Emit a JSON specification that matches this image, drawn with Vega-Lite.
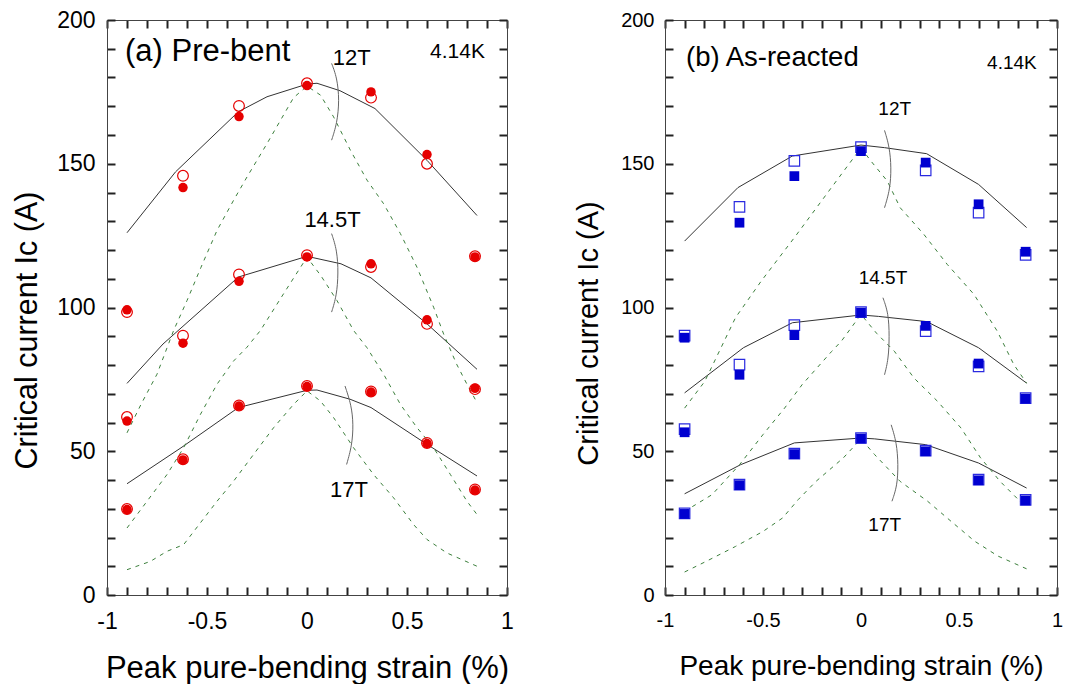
{
  "$schema": "https://vega.github.io/schema/vega-lite/v6.json",
  "background": "white",
  "padding": {"left": 12, "top": 8, "right": 5, "bottom": 0},
  "spacing": 60,
  "config": {
    "font": "Liberation Sans",
    "view": {"stroke": "#444", "strokeWidth": 1},
    "axis": {"grid": false, "domainColor": "#444", "tickColor": "#222", "tickWidth": 2, "ticks": true, "tickSize": -8, "tickOpacity": 1, "zindex": 1, "labelColor": "#000", "titleColor": "#000", "titleFontWeight": "normal", "labelFont": "Liberation Sans", "titleFont": "Liberation Sans"}
  },
  "datasets": {
    "pts": [
      {"panel": "a", "field": "12T", "kind": "open", "x": -0.9, "y": 98.4},
      {"panel": "a", "field": "12T", "kind": "open", "x": -0.62, "y": 145.8},
      {"panel": "a", "field": "12T", "kind": "open", "x": -0.34, "y": 170.1},
      {"panel": "a", "field": "12T", "kind": "open", "x": 0, "y": 178},
      {"panel": "a", "field": "12T", "kind": "open", "x": 0.32, "y": 173},
      {"panel": "a", "field": "12T", "kind": "open", "x": 0.6, "y": 150},
      {"panel": "a", "field": "12T", "kind": "open", "x": 0.84, "y": 117.8},
      {"panel": "a", "field": "12T", "kind": "filled", "x": -0.9, "y": 99.2},
      {"panel": "a", "field": "12T", "kind": "filled", "x": -0.62, "y": 141.7},
      {"panel": "a", "field": "12T", "kind": "filled", "x": -0.34, "y": 166.4},
      {"panel": "a", "field": "12T", "kind": "filled", "x": 0, "y": 177.2},
      {"panel": "a", "field": "12T", "kind": "filled", "x": 0.32, "y": 175},
      {"panel": "a", "field": "12T", "kind": "filled", "x": 0.6, "y": 153.2},
      {"panel": "a", "field": "12T", "kind": "filled", "x": 0.84, "y": 117.6},
      {"panel": "a", "field": "14.5T", "kind": "open", "x": -0.9, "y": 61.9},
      {"panel": "a", "field": "14.5T", "kind": "open", "x": -0.62, "y": 90.2},
      {"panel": "a", "field": "14.5T", "kind": "open", "x": -0.34, "y": 111.5},
      {"panel": "a", "field": "14.5T", "kind": "open", "x": 0, "y": 118.2},
      {"panel": "a", "field": "14.5T", "kind": "open", "x": 0.32, "y": 114.1},
      {"panel": "a", "field": "14.5T", "kind": "open", "x": 0.6, "y": 94.3},
      {"panel": "a", "field": "14.5T", "kind": "open", "x": 0.84, "y": 71.6},
      {"panel": "a", "field": "14.5T", "kind": "filled", "x": -0.9, "y": 60.5},
      {"panel": "a", "field": "14.5T", "kind": "filled", "x": -0.62, "y": 87.6},
      {"panel": "a", "field": "14.5T", "kind": "filled", "x": -0.34, "y": 109.1},
      {"panel": "a", "field": "14.5T", "kind": "filled", "x": 0, "y": 117.6},
      {"panel": "a", "field": "14.5T", "kind": "filled", "x": 0.32, "y": 115.2},
      {"panel": "a", "field": "14.5T", "kind": "filled", "x": 0.6, "y": 95.7},
      {"panel": "a", "field": "14.5T", "kind": "filled", "x": 0.84, "y": 71.9},
      {"panel": "a", "field": "17T", "kind": "open", "x": -0.9, "y": 29.9},
      {"panel": "a", "field": "17T", "kind": "open", "x": -0.62, "y": 47.2},
      {"panel": "a", "field": "17T", "kind": "open", "x": -0.34, "y": 65.9},
      {"panel": "a", "field": "17T", "kind": "open", "x": 0, "y": 72.7},
      {"panel": "a", "field": "17T", "kind": "open", "x": 0.32, "y": 70.8},
      {"panel": "a", "field": "17T", "kind": "open", "x": 0.6, "y": 52.9},
      {"panel": "a", "field": "17T", "kind": "open", "x": 0.84, "y": 36.7},
      {"panel": "a", "field": "17T", "kind": "filled", "x": -0.9, "y": 29.7},
      {"panel": "a", "field": "17T", "kind": "filled", "x": -0.62, "y": 47.0},
      {"panel": "a", "field": "17T", "kind": "filled", "x": -0.34, "y": 65.7},
      {"panel": "a", "field": "17T", "kind": "filled", "x": 0, "y": 72.5},
      {"panel": "a", "field": "17T", "kind": "filled", "x": 0.32, "y": 70.6},
      {"panel": "a", "field": "17T", "kind": "filled", "x": 0.6, "y": 52.7},
      {"panel": "a", "field": "17T", "kind": "filled", "x": 0.84, "y": 36.5},
      {"panel": "b", "field": "12T", "kind": "open", "x": -0.9, "y": 90.2},
      {"panel": "b", "field": "12T", "kind": "open", "x": -0.62, "y": 135},
      {"panel": "b", "field": "12T", "kind": "open", "x": -0.34, "y": 151},
      {"panel": "b", "field": "12T", "kind": "open", "x": 0, "y": 155.8},
      {"panel": "b", "field": "12T", "kind": "open", "x": 0.33, "y": 147.7},
      {"panel": "b", "field": "12T", "kind": "open", "x": 0.6, "y": 133},
      {"panel": "b", "field": "12T", "kind": "open", "x": 0.84, "y": 118.3},
      {"panel": "b", "field": "12T", "kind": "filled", "x": -0.9, "y": 89.5},
      {"panel": "b", "field": "12T", "kind": "filled", "x": -0.62, "y": 129.5},
      {"panel": "b", "field": "12T", "kind": "filled", "x": -0.34, "y": 145.7},
      {"panel": "b", "field": "12T", "kind": "filled", "x": 0, "y": 154.4},
      {"panel": "b", "field": "12T", "kind": "filled", "x": 0.33, "y": 150.4},
      {"panel": "b", "field": "12T", "kind": "filled", "x": 0.6, "y": 135.9},
      {"panel": "b", "field": "12T", "kind": "filled", "x": 0.84, "y": 119.4},
      {"panel": "b", "field": "14.5T", "kind": "open", "x": -0.9, "y": 57.7},
      {"panel": "b", "field": "14.5T", "kind": "open", "x": -0.62, "y": 80.1},
      {"panel": "b", "field": "14.5T", "kind": "open", "x": -0.34, "y": 93.9},
      {"panel": "b", "field": "14.5T", "kind": "open", "x": 0, "y": 98.4},
      {"panel": "b", "field": "14.5T", "kind": "open", "x": 0.33, "y": 91.8},
      {"panel": "b", "field": "14.5T", "kind": "open", "x": 0.6, "y": 79.5},
      {"panel": "b", "field": "14.5T", "kind": "open", "x": 0.84, "y": 68.5},
      {"panel": "b", "field": "14.5T", "kind": "filled", "x": -0.9, "y": 56.6},
      {"panel": "b", "field": "14.5T", "kind": "filled", "x": -0.62, "y": 76.6},
      {"panel": "b", "field": "14.5T", "kind": "filled", "x": -0.34, "y": 90.4},
      {"panel": "b", "field": "14.5T", "kind": "filled", "x": 0, "y": 98.2},
      {"panel": "b", "field": "14.5T", "kind": "filled", "x": 0.33, "y": 93.6},
      {"panel": "b", "field": "14.5T", "kind": "filled", "x": 0.6, "y": 80.5},
      {"panel": "b", "field": "14.5T", "kind": "filled", "x": 0.84, "y": 68.3},
      {"panel": "b", "field": "17T", "kind": "open", "x": -0.9, "y": 28.4},
      {"panel": "b", "field": "17T", "kind": "open", "x": -0.62, "y": 38.4},
      {"panel": "b", "field": "17T", "kind": "open", "x": -0.34, "y": 49.2},
      {"panel": "b", "field": "17T", "kind": "open", "x": 0, "y": 54.6},
      {"panel": "b", "field": "17T", "kind": "open", "x": 0.33, "y": 50.2},
      {"panel": "b", "field": "17T", "kind": "open", "x": 0.6, "y": 40.1},
      {"panel": "b", "field": "17T", "kind": "open", "x": 0.84, "y": 33.1},
      {"panel": "b", "field": "17T", "kind": "filled", "x": -0.9, "y": 28.2},
      {"panel": "b", "field": "17T", "kind": "filled", "x": -0.62, "y": 38.2},
      {"panel": "b", "field": "17T", "kind": "filled", "x": -0.34, "y": 49.0},
      {"panel": "b", "field": "17T", "kind": "filled", "x": 0, "y": 54.4},
      {"panel": "b", "field": "17T", "kind": "filled", "x": 0.33, "y": 50.0},
      {"panel": "b", "field": "17T", "kind": "filled", "x": 0.6, "y": 39.9},
      {"panel": "b", "field": "17T", "kind": "filled", "x": 0.84, "y": 32.9}
    ],
    "curves": [
      {"panel": "a", "field": "12T", "kind": "fit", "x": -0.9, "y": 126},
      {"panel": "a", "field": "12T", "kind": "fit", "x": -0.657, "y": 147.2},
      {"panel": "a", "field": "12T", "kind": "fit", "x": -0.343, "y": 168.1},
      {"panel": "a", "field": "12T", "kind": "fit", "x": -0.2, "y": 173.3},
      {"panel": "a", "field": "12T", "kind": "fit", "x": 0, "y": 177.7},
      {"panel": "a", "field": "12T", "kind": "fit", "x": 0.05, "y": 178},
      {"panel": "a", "field": "12T", "kind": "fit", "x": 0.165, "y": 175.4},
      {"panel": "a", "field": "12T", "kind": "fit", "x": 0.34, "y": 169.2},
      {"panel": "a", "field": "12T", "kind": "fit", "x": 0.6, "y": 151.2},
      {"panel": "a", "field": "12T", "kind": "fit", "x": 0.85, "y": 132},
      {"panel": "a", "field": "14.5T", "kind": "fit", "x": -0.9, "y": 73.6},
      {"panel": "a", "field": "14.5T", "kind": "fit", "x": -0.72, "y": 87.3},
      {"panel": "a", "field": "14.5T", "kind": "fit", "x": -0.343, "y": 110.6},
      {"panel": "a", "field": "14.5T", "kind": "fit", "x": 0, "y": 117.8},
      {"panel": "a", "field": "14.5T", "kind": "fit", "x": 0.17, "y": 115.2},
      {"panel": "a", "field": "14.5T", "kind": "fit", "x": 0.32, "y": 110.3},
      {"panel": "a", "field": "14.5T", "kind": "fit", "x": 0.6, "y": 94.3},
      {"panel": "a", "field": "14.5T", "kind": "fit", "x": 0.85, "y": 78.5},
      {"panel": "a", "field": "17T", "kind": "fit", "x": -0.9, "y": 38.7},
      {"panel": "a", "field": "17T", "kind": "fit", "x": -0.63, "y": 51.2},
      {"panel": "a", "field": "17T", "kind": "fit", "x": -0.343, "y": 65.2},
      {"panel": "a", "field": "17T", "kind": "fit", "x": 0, "y": 71.2},
      {"panel": "a", "field": "17T", "kind": "fit", "x": 0.05, "y": 71.3},
      {"panel": "a", "field": "17T", "kind": "fit", "x": 0.215, "y": 68.1},
      {"panel": "a", "field": "17T", "kind": "fit", "x": 0.32, "y": 65.2},
      {"panel": "a", "field": "17T", "kind": "fit", "x": 0.6, "y": 52.4},
      {"panel": "a", "field": "17T", "kind": "fit", "x": 0.85, "y": 41.4},
      {"panel": "a", "field": "12T", "kind": "dash", "x": -0.9, "y": 56.4},
      {"panel": "a", "field": "12T", "kind": "dash", "x": -0.83, "y": 66.3},
      {"panel": "a", "field": "12T", "kind": "dash", "x": -0.75, "y": 76.8},
      {"panel": "a", "field": "12T", "kind": "dash", "x": -0.667, "y": 92},
      {"panel": "a", "field": "12T", "kind": "dash", "x": -0.6, "y": 102.4},
      {"panel": "a", "field": "12T", "kind": "dash", "x": -0.53, "y": 114},
      {"panel": "a", "field": "12T", "kind": "dash", "x": -0.45, "y": 126.8},
      {"panel": "a", "field": "12T", "kind": "dash", "x": -0.367, "y": 137.3},
      {"panel": "a", "field": "12T", "kind": "dash", "x": -0.3, "y": 145.4},
      {"panel": "a", "field": "12T", "kind": "dash", "x": -0.2, "y": 157},
      {"panel": "a", "field": "12T", "kind": "dash", "x": -0.067, "y": 173},
      {"panel": "a", "field": "12T", "kind": "dash", "x": 0, "y": 177},
      {"panel": "a", "field": "12T", "kind": "dash", "x": 0.067, "y": 173.9},
      {"panel": "a", "field": "12T", "kind": "dash", "x": 0.133, "y": 166.3},
      {"panel": "a", "field": "12T", "kind": "dash", "x": 0.217, "y": 154.7},
      {"panel": "a", "field": "12T", "kind": "dash", "x": 0.3, "y": 144.3},
      {"panel": "a", "field": "12T", "kind": "dash", "x": 0.383, "y": 136.1},
      {"panel": "a", "field": "12T", "kind": "dash", "x": 0.467, "y": 125.7},
      {"panel": "a", "field": "12T", "kind": "dash", "x": 0.55, "y": 114},
      {"panel": "a", "field": "12T", "kind": "dash", "x": 0.633, "y": 100.1},
      {"panel": "a", "field": "12T", "kind": "dash", "x": 0.683, "y": 90.8},
      {"panel": "a", "field": "12T", "kind": "dash", "x": 0.748, "y": 80.3},
      {"panel": "a", "field": "12T", "kind": "dash", "x": 0.8, "y": 73.3},
      {"panel": "a", "field": "12T", "kind": "dash", "x": 0.85, "y": 66.9},
      {"panel": "a", "field": "14.5T", "kind": "dash", "x": -0.9, "y": 23.3},
      {"panel": "a", "field": "14.5T", "kind": "dash", "x": -0.8, "y": 32.6},
      {"panel": "a", "field": "14.5T", "kind": "dash", "x": -0.7, "y": 41.9},
      {"panel": "a", "field": "14.5T", "kind": "dash", "x": -0.617, "y": 51.2},
      {"panel": "a", "field": "14.5T", "kind": "dash", "x": -0.533, "y": 62.8},
      {"panel": "a", "field": "14.5T", "kind": "dash", "x": -0.45, "y": 73.3},
      {"panel": "a", "field": "14.5T", "kind": "dash", "x": -0.367, "y": 81.4},
      {"panel": "a", "field": "14.5T", "kind": "dash", "x": -0.3, "y": 86.2},
      {"panel": "a", "field": "14.5T", "kind": "dash", "x": -0.233, "y": 92},
      {"panel": "a", "field": "14.5T", "kind": "dash", "x": -0.117, "y": 104.8},
      {"panel": "a", "field": "14.5T", "kind": "dash", "x": 0, "y": 117.5},
      {"panel": "a", "field": "14.5T", "kind": "dash", "x": 0.07, "y": 111},
      {"panel": "a", "field": "14.5T", "kind": "dash", "x": 0.15, "y": 102.4},
      {"panel": "a", "field": "14.5T", "kind": "dash", "x": 0.233, "y": 92},
      {"panel": "a", "field": "14.5T", "kind": "dash", "x": 0.3, "y": 86},
      {"panel": "a", "field": "14.5T", "kind": "dash", "x": 0.383, "y": 76.8},
      {"panel": "a", "field": "14.5T", "kind": "dash", "x": 0.467, "y": 66.3},
      {"panel": "a", "field": "14.5T", "kind": "dash", "x": 0.55, "y": 58.2},
      {"panel": "a", "field": "14.5T", "kind": "dash", "x": 0.633, "y": 51.2},
      {"panel": "a", "field": "14.5T", "kind": "dash", "x": 0.717, "y": 41.9},
      {"panel": "a", "field": "14.5T", "kind": "dash", "x": 0.8, "y": 32.6},
      {"panel": "a", "field": "14.5T", "kind": "dash", "x": 0.85, "y": 28},
      {"panel": "a", "field": "17T", "kind": "dash", "x": -0.9, "y": 8.8},
      {"panel": "a", "field": "17T", "kind": "dash", "x": -0.783, "y": 11.7},
      {"panel": "a", "field": "17T", "kind": "dash", "x": -0.7, "y": 15.2},
      {"panel": "a", "field": "17T", "kind": "dash", "x": -0.617, "y": 17.5},
      {"panel": "a", "field": "17T", "kind": "dash", "x": -0.533, "y": 25.1},
      {"panel": "a", "field": "17T", "kind": "dash", "x": -0.45, "y": 32.6},
      {"panel": "a", "field": "17T", "kind": "dash", "x": -0.367, "y": 39.6},
      {"panel": "a", "field": "17T", "kind": "dash", "x": -0.267, "y": 48.9},
      {"panel": "a", "field": "17T", "kind": "dash", "x": -0.167, "y": 58.2},
      {"panel": "a", "field": "17T", "kind": "dash", "x": -0.067, "y": 66.3},
      {"panel": "a", "field": "17T", "kind": "dash", "x": 0, "y": 71},
      {"panel": "a", "field": "17T", "kind": "dash", "x": 0.067, "y": 67.5},
      {"panel": "a", "field": "17T", "kind": "dash", "x": 0.133, "y": 61.7},
      {"panel": "a", "field": "17T", "kind": "dash", "x": 0.233, "y": 51.2},
      {"panel": "a", "field": "17T", "kind": "dash", "x": 0.333, "y": 41.9},
      {"panel": "a", "field": "17T", "kind": "dash", "x": 0.433, "y": 33.8},
      {"panel": "a", "field": "17T", "kind": "dash", "x": 0.533, "y": 24.5},
      {"panel": "a", "field": "17T", "kind": "dash", "x": 0.6, "y": 19.3},
      {"panel": "a", "field": "17T", "kind": "dash", "x": 0.7, "y": 14.6},
      {"panel": "a", "field": "17T", "kind": "dash", "x": 0.85, "y": 10},
      {"panel": "b", "field": "12T", "kind": "fit", "x": -0.9, "y": 123.1},
      {"panel": "b", "field": "12T", "kind": "fit", "x": -0.628, "y": 141.7},
      {"panel": "b", "field": "12T", "kind": "fit", "x": -0.35, "y": 152.7},
      {"panel": "b", "field": "12T", "kind": "fit", "x": 0, "y": 156.5},
      {"panel": "b", "field": "12T", "kind": "fit", "x": 0.12, "y": 155.6},
      {"panel": "b", "field": "12T", "kind": "fit", "x": 0.335, "y": 153.5},
      {"panel": "b", "field": "12T", "kind": "fit", "x": 0.6, "y": 142.8},
      {"panel": "b", "field": "12T", "kind": "fit", "x": 0.845, "y": 127.8},
      {"panel": "b", "field": "14.5T", "kind": "fit", "x": -0.9, "y": 70.3},
      {"panel": "b", "field": "14.5T", "kind": "fit", "x": -0.6, "y": 86},
      {"panel": "b", "field": "14.5T", "kind": "fit", "x": -0.35, "y": 94.7},
      {"panel": "b", "field": "14.5T", "kind": "fit", "x": 0, "y": 97.4},
      {"panel": "b", "field": "14.5T", "kind": "fit", "x": 0.09, "y": 96.9},
      {"panel": "b", "field": "14.5T", "kind": "fit", "x": 0.335, "y": 95.1},
      {"panel": "b", "field": "14.5T", "kind": "fit", "x": 0.6, "y": 86},
      {"panel": "b", "field": "14.5T", "kind": "fit", "x": 0.845, "y": 73.7},
      {"panel": "b", "field": "17T", "kind": "fit", "x": -0.9, "y": 35.2},
      {"panel": "b", "field": "17T", "kind": "fit", "x": -0.615, "y": 45.3},
      {"panel": "b", "field": "17T", "kind": "fit", "x": -0.34, "y": 52.9},
      {"panel": "b", "field": "17T", "kind": "fit", "x": 0, "y": 54.6},
      {"panel": "b", "field": "17T", "kind": "fit", "x": 0.07, "y": 54.3},
      {"panel": "b", "field": "17T", "kind": "fit", "x": 0.33, "y": 52.3},
      {"panel": "b", "field": "17T", "kind": "fit", "x": 0.6, "y": 45.9},
      {"panel": "b", "field": "17T", "kind": "fit", "x": 0.845, "y": 37.2},
      {"panel": "b", "field": "12T", "kind": "dash", "x": -0.9, "y": 65},
      {"panel": "b", "field": "12T", "kind": "dash", "x": -0.797, "y": 74.3},
      {"panel": "b", "field": "12T", "kind": "dash", "x": -0.64, "y": 96.5},
      {"panel": "b", "field": "12T", "kind": "dash", "x": -0.509, "y": 109.2},
      {"panel": "b", "field": "12T", "kind": "dash", "x": -0.34, "y": 124.3},
      {"panel": "b", "field": "12T", "kind": "dash", "x": -0.151, "y": 141.7},
      {"panel": "b", "field": "12T", "kind": "dash", "x": 0, "y": 155.5},
      {"panel": "b", "field": "12T", "kind": "dash", "x": 0.05, "y": 151},
      {"panel": "b", "field": "12T", "kind": "dash", "x": 0.134, "y": 144},
      {"panel": "b", "field": "12T", "kind": "dash", "x": 0.2, "y": 134.7},
      {"panel": "b", "field": "12T", "kind": "dash", "x": 0.32, "y": 125.5},
      {"panel": "b", "field": "12T", "kind": "dash", "x": 0.44, "y": 115},
      {"panel": "b", "field": "12T", "kind": "dash", "x": 0.576, "y": 104.6},
      {"panel": "b", "field": "12T", "kind": "dash", "x": 0.695, "y": 91.8},
      {"panel": "b", "field": "12T", "kind": "dash", "x": 0.78, "y": 80.1},
      {"panel": "b", "field": "12T", "kind": "dash", "x": 0.845, "y": 73.7},
      {"panel": "b", "field": "14.5T", "kind": "dash", "x": -0.9, "y": 29.1},
      {"panel": "b", "field": "14.5T", "kind": "dash", "x": -0.76, "y": 34.9},
      {"panel": "b", "field": "14.5T", "kind": "dash", "x": -0.62, "y": 45.3},
      {"panel": "b", "field": "14.5T", "kind": "dash", "x": -0.5, "y": 55.8},
      {"panel": "b", "field": "14.5T", "kind": "dash", "x": -0.39, "y": 65},
      {"panel": "b", "field": "14.5T", "kind": "dash", "x": -0.3, "y": 73.2},
      {"panel": "b", "field": "14.5T", "kind": "dash", "x": -0.15, "y": 84.7},
      {"panel": "b", "field": "14.5T", "kind": "dash", "x": -0.1, "y": 88.3},
      {"panel": "b", "field": "14.5T", "kind": "dash", "x": 0, "y": 97.6},
      {"panel": "b", "field": "14.5T", "kind": "dash", "x": 0.08, "y": 91},
      {"panel": "b", "field": "14.5T", "kind": "dash", "x": 0.17, "y": 84.8},
      {"panel": "b", "field": "14.5T", "kind": "dash", "x": 0.27, "y": 75.5},
      {"panel": "b", "field": "14.5T", "kind": "dash", "x": 0.39, "y": 67.4},
      {"panel": "b", "field": "14.5T", "kind": "dash", "x": 0.51, "y": 58.1},
      {"panel": "b", "field": "14.5T", "kind": "dash", "x": 0.61, "y": 47.7},
      {"panel": "b", "field": "14.5T", "kind": "dash", "x": 0.71, "y": 39.5},
      {"panel": "b", "field": "14.5T", "kind": "dash", "x": 0.845, "y": 30.3},
      {"panel": "b", "field": "17T", "kind": "dash", "x": -0.9, "y": 8},
      {"panel": "b", "field": "17T", "kind": "dash", "x": -0.79, "y": 11.7},
      {"panel": "b", "field": "17T", "kind": "dash", "x": -0.64, "y": 16.9},
      {"panel": "b", "field": "17T", "kind": "dash", "x": -0.5, "y": 22.1},
      {"panel": "b", "field": "17T", "kind": "dash", "x": -0.4, "y": 26.8},
      {"panel": "b", "field": "17T", "kind": "dash", "x": -0.32, "y": 33.2},
      {"panel": "b", "field": "17T", "kind": "dash", "x": -0.23, "y": 39.5},
      {"panel": "b", "field": "17T", "kind": "dash", "x": -0.09, "y": 47.7},
      {"panel": "b", "field": "17T", "kind": "dash", "x": 0, "y": 54.3},
      {"panel": "b", "field": "17T", "kind": "dash", "x": 0.07, "y": 48.8},
      {"panel": "b", "field": "17T", "kind": "dash", "x": 0.2, "y": 39.5},
      {"panel": "b", "field": "17T", "kind": "dash", "x": 0.34, "y": 32.6},
      {"panel": "b", "field": "17T", "kind": "dash", "x": 0.46, "y": 25.6},
      {"panel": "b", "field": "17T", "kind": "dash", "x": 0.58, "y": 18.7},
      {"panel": "b", "field": "17T", "kind": "dash", "x": 0.7, "y": 13.5},
      {"panel": "b", "field": "17T", "kind": "dash", "x": 0.845, "y": 9.1}
    ],
    "brackets": [
      {"panel": "a", "field": "12T", "i": 0, "x": 0.123, "y": 184.9},
      {"panel": "a", "field": "12T", "i": 1, "x": 0.15, "y": 180},
      {"panel": "a", "field": "12T", "i": 2, "x": 0.162, "y": 172.1},
      {"panel": "a", "field": "12T", "i": 3, "x": 0.15, "y": 164},
      {"panel": "a", "field": "12T", "i": 4, "x": 0.123, "y": 158.2},
      {"panel": "a", "field": "14.5T", "i": 0, "x": 0.123, "y": 125.7},
      {"panel": "a", "field": "14.5T", "i": 1, "x": 0.15, "y": 120},
      {"panel": "a", "field": "14.5T", "i": 2, "x": 0.157, "y": 112},
      {"panel": "a", "field": "14.5T", "i": 3, "x": 0.148, "y": 104},
      {"panel": "a", "field": "14.5T", "i": 4, "x": 0.123, "y": 98.4},
      {"panel": "a", "field": "17T", "i": 0, "x": 0.19, "y": 72.7},
      {"panel": "a", "field": "17T", "i": 1, "x": 0.222, "y": 66},
      {"panel": "a", "field": "17T", "i": 2, "x": 0.232, "y": 59.3},
      {"panel": "a", "field": "17T", "i": 3, "x": 0.225, "y": 52},
      {"panel": "a", "field": "17T", "i": 4, "x": 0.198, "y": 45.4},
      {"panel": "b", "field": "12T", "i": 0, "x": 0.12, "y": 161.6},
      {"panel": "b", "field": "12T", "i": 1, "x": 0.145, "y": 156},
      {"panel": "b", "field": "12T", "i": 2, "x": 0.155, "y": 148.6},
      {"panel": "b", "field": "12T", "i": 3, "x": 0.148, "y": 141},
      {"panel": "b", "field": "12T", "i": 4, "x": 0.12, "y": 134.7},
      {"panel": "b", "field": "14.5T", "i": 0, "x": 0.112, "y": 103.4},
      {"panel": "b", "field": "14.5T", "i": 1, "x": 0.14, "y": 98},
      {"panel": "b", "field": "14.5T", "i": 2, "x": 0.145, "y": 90},
      {"panel": "b", "field": "14.5T", "i": 3, "x": 0.14, "y": 82},
      {"panel": "b", "field": "14.5T", "i": 4, "x": 0.12, "y": 76.6},
      {"panel": "b", "field": "17T", "i": 0, "x": 0.154, "y": 59.2},
      {"panel": "b", "field": "17T", "i": 1, "x": 0.182, "y": 53},
      {"panel": "b", "field": "17T", "i": 2, "x": 0.19, "y": 45.3},
      {"panel": "b", "field": "17T", "i": 3, "x": 0.185, "y": 38},
      {"panel": "b", "field": "17T", "i": 4, "x": 0.158, "y": 32.6}
    ],
    "labels": [
      {"panel": "a", "role": "title", "text": "(a) Pre-bent", "x": -0.91, "y": 189},
      {"panel": "a", "role": "temp", "text": "4.14K", "x": 0.7525, "y": 189},
      {"panel": "a", "role": "field", "text": "12T", "x": 0.2235, "y": 186.9},
      {"panel": "a", "role": "field", "text": "14.5T", "x": 0.1275, "y": 130.6},
      {"panel": "a", "role": "field", "text": "17T", "x": 0.21, "y": 36.4},
      {"panel": "b", "role": "title", "text": "(b) As-reacted", "x": -0.893, "y": 186.9},
      {"panel": "b", "role": "temp", "text": "4.14K", "x": 0.77, "y": 185},
      {"panel": "b", "role": "field", "text": "12T", "x": 0.172, "y": 169},
      {"panel": "b", "role": "field", "text": "14.5T", "x": 0.112, "y": 110.4},
      {"panel": "b", "role": "field", "text": "17T", "x": 0.121, "y": 24.5}
    ]
  },
  "hconcat": [
    {
      "width": 400,
      "height": 575,
      "encoding": {
        "x": {"field": "x", "type": "quantitative", "scale": {"domain": [-1, 1], "nice": false, "zero": false}},
        "y": {"field": "y", "type": "quantitative", "scale": {"domain": [0, 200], "nice": false}}
      },
      "layer": [
        {
          "data": {"name": "curves"},
          "transform": [{"filter": "datum.panel === 'a' && datum.kind === 'fit'"}],
          "mark": {"type": "line", "color": "#333", "strokeWidth": 1},
          "encoding": {
            "detail": {"field": "field"},
            "x": {"field": "x", "type": "quantitative", "axis": {"orient": "bottom", "title": "Peak pure-bending strain (%)", "titleFontSize": 31, "titlePadding": 20, "labelFontSize": 23, "labelPadding": 23, "tickColor": "#222", "tickWidth": 2, "tickSize": -8, "values": [-1, -0.9, -0.8, -0.7, -0.6, -0.5, -0.4, -0.3, -0.2, -0.1, 0, 0.1, 0.2, 0.3, 0.4, 0.5, 0.6, 0.7, 0.8, 0.9, 1], "labelExpr": "abs(datum.value*2 - round(datum.value*2)) < 0.001 ? toString(round(datum.value*2)/2) : ''", "labelFlush": false, "labelOverlap": false}},
            "y": {"field": "y", "type": "quantitative", "axis": {"orient": "left", "title": "Critical current Ic (A)", "titleFontSize": 30.5, "titlePadding": 14, "titleY": 310, "labelFontSize": 23, "labelPadding": 20, "tickColor": "#222", "tickWidth": 2, "tickSize": -8, "values": [0, 10, 20, 30, 40, 50, 60, 70, 80, 90, 100, 110, 120, 130, 140, 150, 160, 170, 180, 190, 200], "labelExpr": "datum.value % 50 === 0 ? toString(datum.value) : ''", "labelFlush": false, "labelOverlap": false}}
          }
        },
        {
          "data": {"name": "curves"},
          "transform": [{"filter": "datum.panel === 'a' && datum.kind === 'dash'"}],
          "mark": {"type": "line", "color": "#3c7f3c", "strokeWidth": 1, "strokeDash": [4, 5]},
          "encoding": {
            "detail": {"field": "field"},
            "x": {"field": "x", "type": "quantitative", "axis": {"orient": "top", "title": null, "labels": false, "tickColor": "#222", "tickWidth": 2, "tickSize": -8, "values": [-1, -0.9, -0.8, -0.7, -0.6, -0.5, -0.4, -0.3, -0.2, -0.1, 0, 0.1, 0.2, 0.3, 0.4, 0.5, 0.6, 0.7, 0.8, 0.9, 1]}},
            "y": {"field": "y", "type": "quantitative", "axis": {"orient": "right", "title": null, "labels": false, "tickColor": "#222", "tickWidth": 2, "tickSize": -8, "values": [0, 10, 20, 30, 40, 50, 60, 70, 80, 90, 100, 110, 120, 130, 140, 150, 160, 170, 180, 190, 200]}}
          }
        },
        {
          "data": {"name": "brackets"},
          "transform": [{"filter": "datum.panel === 'a'"}],
          "mark": {"type": "line", "color": "#666", "strokeWidth": 1, "interpolate": "basis"},
          "encoding": {
            "detail": {"field": "field"},
            "order": {"field": "i", "type": "quantitative"},
            "x": {"field": "x", "type": "quantitative", "axis": null},
            "y": {"field": "y", "type": "quantitative", "axis": null}
          }
        },
        {
          "data": {"name": "pts"},
          "transform": [{"filter": "datum.panel === 'a' && datum.kind === 'open'"}],
          "mark": {"type": "point", "shape": "circle", "filled": false, "color": "#e60000", "strokeWidth": 1.2, "size": 115, "opacity": 1},
          "encoding": {
            "x": {"field": "x", "type": "quantitative", "axis": null},
            "y": {"field": "y", "type": "quantitative", "axis": null}
          }
        },
        {
          "data": {"name": "pts"},
          "transform": [{"filter": "datum.panel === 'a' && datum.kind === 'filled'"}],
          "mark": {"type": "point", "shape": "circle", "filled": true, "color": "#e60000", "size": 90, "opacity": 1},
          "encoding": {
            "x": {"field": "x", "type": "quantitative", "axis": null},
            "y": {"field": "y", "type": "quantitative", "axis": null}
          }
        },
        {
          "data": {"name": "labels"},
          "transform": [{"filter": "datum.panel === 'a' && datum.role === 'title'"}],
          "mark": {"type": "text", "align": "left", "baseline": "middle", "fontSize": 31, "font": "Liberation Sans", "color": "#000"},
          "encoding": {
            "text": {"field": "text"},
            "x": {"field": "x", "type": "quantitative", "axis": null},
            "y": {"field": "y", "type": "quantitative", "axis": null}
          }
        },
        {
          "data": {"name": "labels"},
          "transform": [{"filter": "datum.panel === 'a' && datum.role === 'temp'"}],
          "mark": {"type": "text", "align": "center", "baseline": "middle", "fontSize": 21, "font": "Liberation Sans", "color": "#000"},
          "encoding": {
            "text": {"field": "text"},
            "x": {"field": "x", "type": "quantitative", "axis": null},
            "y": {"field": "y", "type": "quantitative", "axis": null}
          }
        },
        {
          "data": {"name": "labels"},
          "transform": [{"filter": "datum.panel === 'a' && datum.role === 'field'"}],
          "mark": {"type": "text", "align": "center", "baseline": "middle", "fontSize": 22, "font": "Liberation Sans", "color": "#000"},
          "encoding": {
            "text": {"field": "text"},
            "x": {"field": "x", "type": "quantitative", "axis": null},
            "y": {"field": "y", "type": "quantitative", "axis": null}
          }
        }
      ]
    },
    {
      "width": 392,
      "height": 575,
      "encoding": {
        "x": {"field": "x", "type": "quantitative", "scale": {"domain": [-1, 1], "nice": false, "zero": false}},
        "y": {"field": "y", "type": "quantitative", "scale": {"domain": [0, 200], "nice": false}}
      },
      "layer": [
        {
          "data": {"name": "curves"},
          "transform": [{"filter": "datum.panel === 'b' && datum.kind === 'fit'"}],
          "mark": {"type": "line", "color": "#333", "strokeWidth": 1},
          "encoding": {
            "detail": {"field": "field"},
            "x": {"field": "x", "type": "quantitative", "axis": {"orient": "bottom", "title": "Peak pure-bending strain (%)", "titleFontSize": 28, "titlePadding": 22, "labelFontSize": 20, "labelPadding": 23, "tickColor": "#222", "tickWidth": 2, "tickSize": -8, "values": [-1, -0.9, -0.8, -0.7, -0.6, -0.5, -0.4, -0.3, -0.2, -0.1, 0, 0.1, 0.2, 0.3, 0.4, 0.5, 0.6, 0.7, 0.8, 0.9, 1], "labelExpr": "abs(datum.value*2 - round(datum.value*2)) < 0.001 ? toString(round(datum.value*2)/2) : ''", "labelFlush": false, "labelOverlap": false}},
            "y": {"field": "y", "type": "quantitative", "axis": {"orient": "left", "title": "Critical current Ic (A)", "titleFontSize": 29, "titlePadding": 17, "titleY": 313, "labelFontSize": 20, "labelPadding": 19, "tickColor": "#222", "tickWidth": 2, "tickSize": -8, "values": [0, 10, 20, 30, 40, 50, 60, 70, 80, 90, 100, 110, 120, 130, 140, 150, 160, 170, 180, 190, 200], "labelExpr": "datum.value % 50 === 0 ? toString(datum.value) : ''", "labelFlush": false, "labelOverlap": false}}
          }
        },
        {
          "data": {"name": "curves"},
          "transform": [{"filter": "datum.panel === 'b' && datum.kind === 'dash'"}],
          "mark": {"type": "line", "color": "#3c7f3c", "strokeWidth": 1, "strokeDash": [4, 5]},
          "encoding": {
            "detail": {"field": "field"},
            "x": {"field": "x", "type": "quantitative", "axis": {"orient": "top", "title": null, "labels": false, "tickColor": "#222", "tickWidth": 2, "tickSize": -8, "values": [-1, -0.9, -0.8, -0.7, -0.6, -0.5, -0.4, -0.3, -0.2, -0.1, 0, 0.1, 0.2, 0.3, 0.4, 0.5, 0.6, 0.7, 0.8, 0.9, 1]}},
            "y": {"field": "y", "type": "quantitative", "axis": {"orient": "right", "title": null, "labels": false, "tickColor": "#222", "tickWidth": 2, "tickSize": -8, "values": [0, 10, 20, 30, 40, 50, 60, 70, 80, 90, 100, 110, 120, 130, 140, 150, 160, 170, 180, 190, 200]}}
          }
        },
        {
          "data": {"name": "brackets"},
          "transform": [{"filter": "datum.panel === 'b'"}],
          "mark": {"type": "line", "color": "#666", "strokeWidth": 1, "interpolate": "basis"},
          "encoding": {
            "detail": {"field": "field"},
            "order": {"field": "i", "type": "quantitative"},
            "x": {"field": "x", "type": "quantitative", "axis": null},
            "y": {"field": "y", "type": "quantitative", "axis": null}
          }
        },
        {
          "data": {"name": "pts"},
          "transform": [{"filter": "datum.panel === 'b' && datum.kind === 'open'"}],
          "mark": {"type": "point", "shape": "square", "filled": false, "color": "#2a2ae0", "strokeWidth": 1.2, "size": 110, "opacity": 1},
          "encoding": {
            "x": {"field": "x", "type": "quantitative", "axis": null},
            "y": {"field": "y", "type": "quantitative", "axis": null}
          }
        },
        {
          "data": {"name": "pts"},
          "transform": [{"filter": "datum.panel === 'b' && datum.kind === 'filled'"}],
          "mark": {"type": "point", "shape": "square", "filled": true, "color": "#0000d0", "size": 95, "opacity": 1},
          "encoding": {
            "x": {"field": "x", "type": "quantitative", "axis": null},
            "y": {"field": "y", "type": "quantitative", "axis": null}
          }
        },
        {
          "data": {"name": "labels"},
          "transform": [{"filter": "datum.panel === 'b' && datum.role === 'title'"}],
          "mark": {"type": "text", "align": "left", "baseline": "middle", "fontSize": 27.5, "font": "Liberation Sans", "color": "#000"},
          "encoding": {
            "text": {"field": "text"},
            "x": {"field": "x", "type": "quantitative", "axis": null},
            "y": {"field": "y", "type": "quantitative", "axis": null}
          }
        },
        {
          "data": {"name": "labels"},
          "transform": [{"filter": "datum.panel === 'b' && datum.role === 'temp'"}],
          "mark": {"type": "text", "align": "center", "baseline": "middle", "fontSize": 19, "font": "Liberation Sans", "color": "#000"},
          "encoding": {
            "text": {"field": "text"},
            "x": {"field": "x", "type": "quantitative", "axis": null},
            "y": {"field": "y", "type": "quantitative", "axis": null}
          }
        },
        {
          "data": {"name": "labels"},
          "transform": [{"filter": "datum.panel === 'b' && datum.role === 'field'"}],
          "mark": {"type": "text", "align": "center", "baseline": "middle", "fontSize": 19, "font": "Liberation Sans", "color": "#000"},
          "encoding": {
            "text": {"field": "text"},
            "x": {"field": "x", "type": "quantitative", "axis": null},
            "y": {"field": "y", "type": "quantitative", "axis": null}
          }
        }
      ]
    }
  ]
}
